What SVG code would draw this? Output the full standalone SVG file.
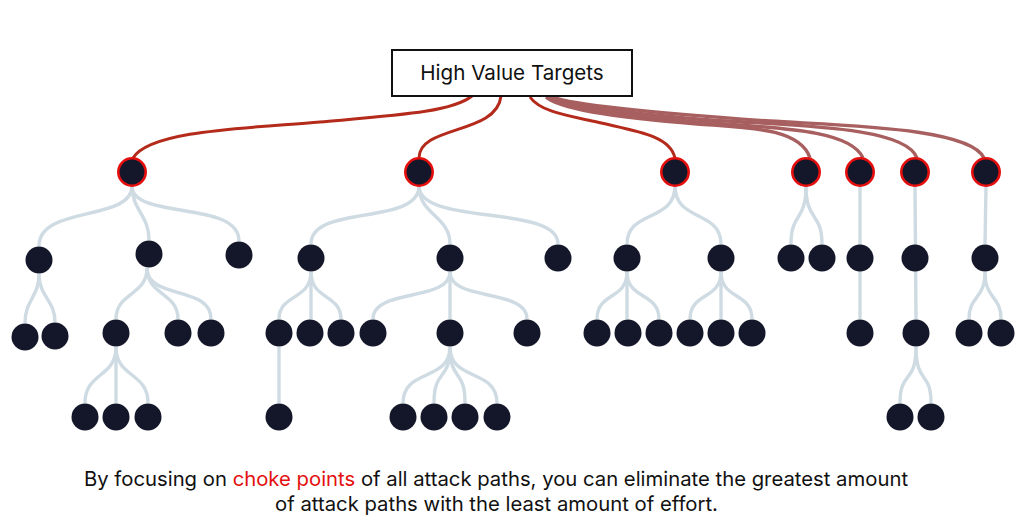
<svg xmlns="http://www.w3.org/2000/svg" width="1024" height="528" viewBox="0 0 1024 528">
<style>
.n{fill:#131729}
.r{fill:#131729;stroke:#e3100f;stroke-width:2.6}
.l{fill:none;stroke:#cfdbe3;stroke-width:3.4}
.h{fill:none;stroke:#b42a1b;stroke-width:3}
.f{fill:none;stroke:#a85f5f;stroke-width:3.4}
text{font-family:"Inter","Liberation Sans",sans-serif;fill:#111}
</style>
<rect width="1024" height="528" fill="#fff"/>
<g id="connectors">
<path class="l" d="M132,186C132,222 39,205 39,246"/>
<path class="l" d="M132,186C132,210 149,215 149,240"/>
<path class="l" d="M132,186C132,220 239,200 239,241"/>
<path class="l" d="M39,274C39,297 25,300 25,323"/>
<path class="l" d="M39,274C39,297 55,300 55,322"/>
<path class="l" d="M147,268C147,296 116,292 116,319"/>
<path class="l" d="M147,268C147,296 178,292 178,319"/>
<path class="l" d="M147,268C147,300 211,285 211,319"/>
<path class="l" d="M116,347C116,378 85,372 85,403"/>
<path class="l" d="M116,347V403"/>
<path class="l" d="M116,347C116,378 148,372 148,403"/>
<path class="l" d="M419,186C419,226 311,204 311,244"/>
<path class="l" d="M419,186C419,215 450,216 450,244"/>
<path class="l" d="M419,186C419,226 558,204 558,244"/>
<path class="l" d="M311,272C311,300 279,294 279,319"/>
<path class="l" d="M311,272V319"/>
<path class="l" d="M311,272C311,300 341,294 341,319"/>
<path class="l" d="M279,347L279,403"/>
<path class="l" d="M450,272C450,302 373,288 373,319"/>
<path class="l" d="M450,272V319"/>
<path class="l" d="M450,272C450,302 527,288 527,319"/>
<path class="l" d="M450,347C450,382 403,368 403,403"/>
<path class="l" d="M450,347C450,382 434,368 434,403"/>
<path class="l" d="M450,347C450,382 465,368 465,403"/>
<path class="l" d="M450,347C450,382 497,368 497,403"/>
<path class="l" d="M675,186C675,222 627,210 627,244"/>
<path class="l" d="M675,186C675,222 721,210 721,244"/>
<path class="l" d="M627,272C627,300 597,292 597,319"/>
<path class="l" d="M627,272V319"/>
<path class="l" d="M627,272C627,300 659,292 659,319"/>
<path class="l" d="M721,272C721,300 690,292 690,319"/>
<path class="l" d="M721,272V319"/>
<path class="l" d="M721,272C721,300 752,292 752,319"/>
<path class="l" d="M806,186C806,222 791,212 791,244"/>
<path class="l" d="M806,186C806,222 822,212 822,244"/>
<path class="l" d="M860,186V319"/>
<path class="l" d="M915,186L916,319"/>
<path class="l" d="M916,347C916,385 900,370 900,403"/>
<path class="l" d="M916,347C916,385 931,370 931,403"/>
<path class="l" d="M986,186L985,244"/>
<path class="l" d="M985,272C985,300 969,295 969,319"/>
<path class="l" d="M985,272C985,300 1001,295 1001,319"/>
<path class="f" d="M546,97C560,110 620,118 697,124C750,128 800,128 810,158"/>
<path class="f" d="M548,97C565,108 625,115 697,122C770,128 850,128 863,158"/>
<path class="f" d="M550,97C570,106 630,113 697,119C780,126 905,124 917,158"/>
<path class="f" d="M552,97C575,105 640,112 770,121C850,126 970,128 984,158"/>
<path class="h" d="M472,96C452,112 400,115 320,122C250,128 150,130 133,158"/>
<path class="h" d="M501,96C497,135 419,125 419,158"/>
<path class="h" d="M530,97C540,112 570,116 597,122C635,131 670,135 675,158"/>
</g>
<g id="high-value-targets">
<rect x="392" y="50" width="240" height="46" fill="#fff" stroke="#111" stroke-width="2"/>
<text x="512" y="80" text-anchor="middle" font-size="20.6">High Value Targets</text>
</g>
<g id="chokes">
<circle class="r" cx="132" cy="172" r="13.7"/><circle class="r" cx="419" cy="172" r="13.7"/><circle class="r" cx="675" cy="172" r="13.7"/><circle class="r" cx="806" cy="172" r="13.7"/><circle class="r" cx="860" cy="172" r="13.7"/><circle class="r" cx="915" cy="172" r="13.7"/><circle class="r" cx="986" cy="172" r="13.7"/>
</g>
<g id="nodes">
<circle class="n" cx="39" cy="260" r="13.5"/><circle class="n" cx="149" cy="254" r="13.5"/><circle class="n" cx="239" cy="255" r="13.5"/>
<circle class="n" cx="25" cy="337" r="13.5"/><circle class="n" cx="55" cy="336" r="13.5"/><circle class="n" cx="116" cy="333" r="13.5"/><circle class="n" cx="178" cy="333" r="13.5"/><circle class="n" cx="211" cy="333" r="13.5"/>
<circle class="n" cx="85" cy="417" r="13.5"/><circle class="n" cx="116" cy="417" r="13.5"/><circle class="n" cx="148" cy="417" r="13.5"/>
<circle class="n" cx="311" cy="258" r="13.5"/><circle class="n" cx="450" cy="258" r="13.5"/><circle class="n" cx="558" cy="258" r="13.5"/>
<circle class="n" cx="279" cy="333" r="13.5"/><circle class="n" cx="310" cy="333" r="13.5"/><circle class="n" cx="341" cy="333" r="13.5"/><circle class="n" cx="373" cy="333" r="13.5"/><circle class="n" cx="450" cy="333" r="13.5"/><circle class="n" cx="527" cy="333" r="13.5"/>
<circle class="n" cx="279" cy="417" r="13.5"/><circle class="n" cx="403" cy="417" r="13.5"/><circle class="n" cx="434" cy="417" r="13.5"/><circle class="n" cx="465" cy="417" r="13.5"/><circle class="n" cx="497" cy="417" r="13.5"/>
<circle class="n" cx="627" cy="258" r="13.5"/><circle class="n" cx="721" cy="258" r="13.5"/>
<circle class="n" cx="597" cy="333" r="13.5"/><circle class="n" cx="628" cy="333" r="13.5"/><circle class="n" cx="659" cy="333" r="13.5"/><circle class="n" cx="690" cy="333" r="13.5"/><circle class="n" cx="721" cy="333" r="13.5"/><circle class="n" cx="752" cy="333" r="13.5"/>
<circle class="n" cx="791" cy="258" r="13.5"/><circle class="n" cx="822" cy="258" r="13.5"/><circle class="n" cx="860" cy="258" r="13.5"/><circle class="n" cx="860" cy="333" r="13.5"/>
<circle class="n" cx="915" cy="258" r="13.5"/><circle class="n" cx="916" cy="333" r="13.5"/><circle class="n" cx="900" cy="417" r="13.5"/><circle class="n" cx="931" cy="417" r="13.5"/>
<circle class="n" cx="985" cy="258" r="13.5"/><circle class="n" cx="969" cy="333" r="13.5"/><circle class="n" cx="1001" cy="333" r="13.5"/>
</g>
<g id="caption" font-size="20.3">
<text x="84" y="486">By focusing on <tspan style="fill:#e3100f">choke points</tspan> of all attack paths, you can eliminate the greatest amount</text>
<text x="496.500" y="511" text-anchor="middle">of attack paths with the least amount of effort.</text>
</g>
</svg>
